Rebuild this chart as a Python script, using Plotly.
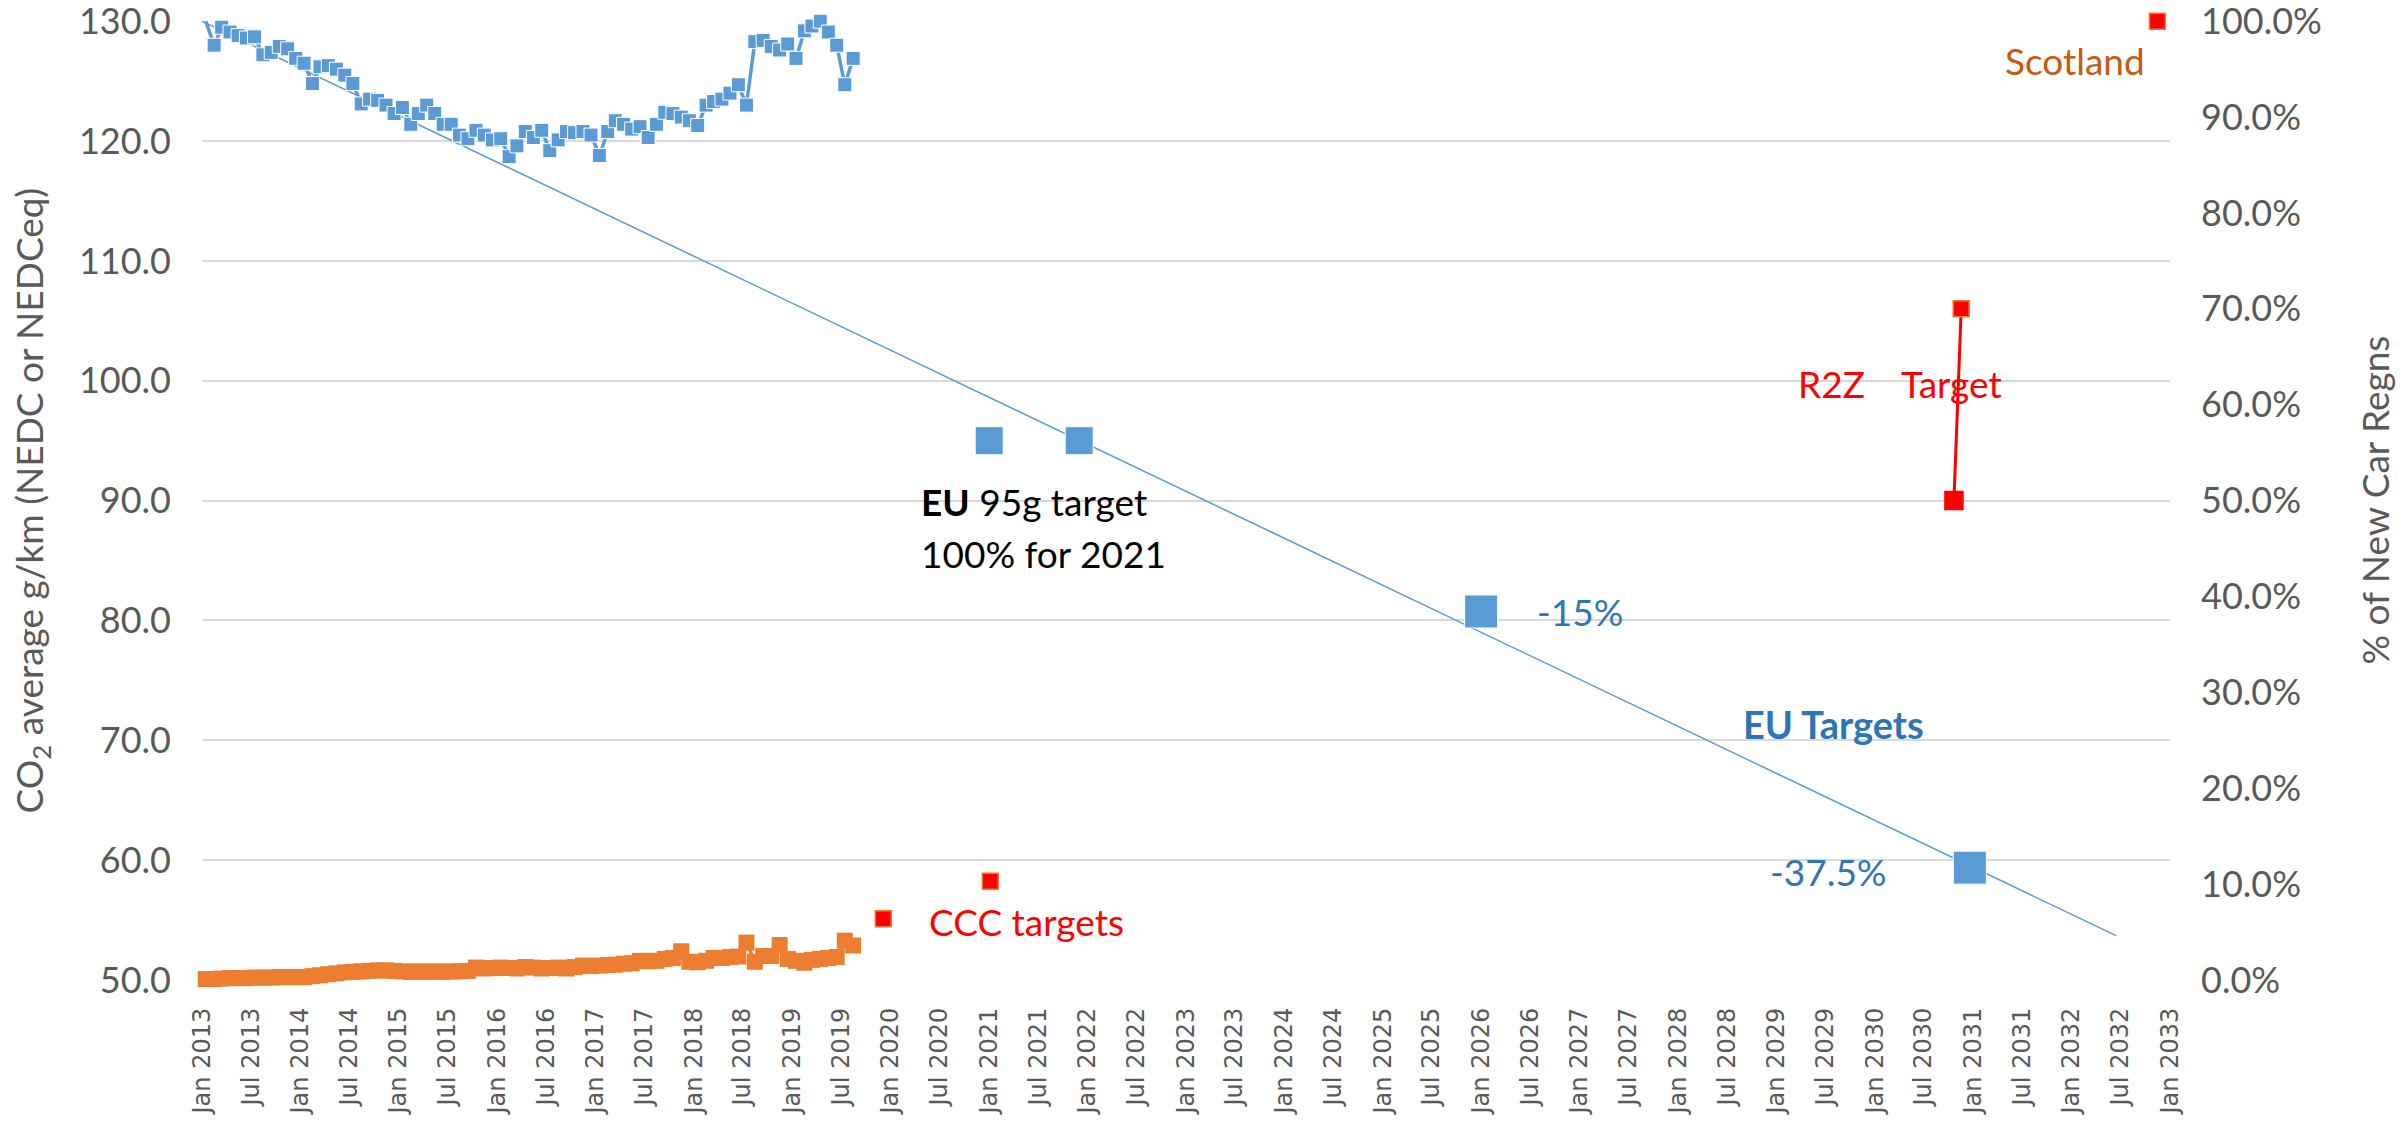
import pandas as pd
import plotly.graph_objects as go

# monthly figures, Jan 2013 .. Aug 2019 (plotted mid-month)
months = pd.date_range("2013-01-01", periods=80, freq="MS") + pd.Timedelta(days=14)

# new car CO2 average, g/km (left axis)
co2_avg = [
    130.0,
    128.0, 129.5, 129.1, 128.8, 128.6, 128.7, 127.2, 127.4, 127.9, 127.7,
    126.9, 126.5, 124.8, 126.2, 126.3, 126.0, 125.5, 124.8, 123.1, 123.5,
    123.4, 123.0, 122.3, 122.8, 121.4, 122.3, 123.0, 122.3, 121.4, 121.4,
    120.5, 120.2, 120.9, 120.5, 120.1, 120.2, 118.7, 119.6, 120.8, 120.3,
    120.9, 119.2, 120.1, 120.8, 120.7, 120.8, 120.5, 118.8, 120.8, 121.7,
    121.4, 121.0, 121.2, 120.3, 121.4, 122.4, 122.3, 122.0, 121.7, 121.3,
    123.0, 123.3, 123.5, 124.0, 124.7, 123.0, 128.3, 128.4, 127.9, 127.6,
    128.1, 126.9, 129.2, 129.6, 130.0, 129.1, 128.0, 124.7, 126.9,
]

# plug-in share of new car registrations, % (right axis)
plugin_share = [
    0.1, 0.1, 0.15, 0.2, 0.2, 0.2, 0.25, 0.25, 0.25, 0.3,
    0.3, 0.3, 0.3, 0.4, 0.5, 0.6, 0.7, 0.8, 0.85, 0.9,
    0.95, 1.0, 1.0, 0.95, 0.9, 0.85, 0.9, 0.85, 0.9, 0.85,
    0.9, 0.9, 0.95, 1.3, 1.2, 1.25, 1.3, 1.25, 1.2, 1.35,
    1.3, 1.2, 1.25, 1.3, 1.2, 1.35, 1.5, 1.45, 1.5, 1.55,
    1.6, 1.7, 1.75, 2.0, 1.95, 2.0, 2.2, 2.3, 3.0, 1.9,
    1.85, 2.0, 2.3, 2.3, 2.4, 2.45, 3.9, 1.9, 2.5, 2.5,
    3.65, 2.2, 2.0, 1.8, 2.1, 2.2, 2.3, 2.4, 4.1, 3.6,
]

# EU trajectory line and target points (left axis)
eu_line_dates = ["2013-01-01", "2032-06-15"]
eu_line_vals = [130.0, 53.7]
eu_target_dates = ["2021-01-01", "2021-12-01", "2026-01-01", "2030-12-20"]
eu_target_vals = [95.0, 95.0, 80.75, 59.375]

# share targets (right axis)
ccc_dates = ["2019-12-05", "2021-01-05"]
ccc_share = [6.4, 10.3]
r2z_dates = ["2030-10-22", "2030-11-18"]
r2z_share = [50.0, 70.0]
scotland_dates = ["2032-11-15"]
scotland_share = [100.0]

BLUE = "#5B9BD5"
ORANGE = "#ED7D31"
RED = "#FF0000"
TXT_BLUE = "#2E75B6"
GREY = "#595959"
FONT = "Lato, sans-serif"

fig = go.Figure()

fig.add_trace(go.Scatter(x=eu_line_dates, y=eu_line_vals, mode="lines",
                         line=dict(color=BLUE, width=1.5), yaxis="y"))

fig.add_trace(go.Scatter(x=months, y=co2_avg, mode="lines+markers",
                         line=dict(color=BLUE, width=3.5),
                         marker=dict(symbol="square", color=BLUE, opacity=1,
                                     size=[0] + [14] * (len(co2_avg) - 1)),
                         cliponaxis=False, yaxis="y"))

fig.add_trace(go.Scatter(x=eu_target_dates, y=eu_target_vals, mode="markers",
                         marker=dict(symbol="square", color=BLUE, opacity=1,
                                     size=[28, 28, 33, 33]),
                         yaxis="y"))

fig.add_trace(go.Scatter(x=months, y=plugin_share, mode="lines+markers",
                         line=dict(color=ORANGE, width=3.5),
                         marker=dict(symbol="square", color=ORANGE, size=16),
                         cliponaxis=False, yaxis="y2"))

fig.add_trace(go.Scatter(x=ccc_dates, y=ccc_share, mode="markers",
                         marker=dict(symbol="square", color=RED, size=16,
                                     line=dict(color=ORANGE, width=1.5)),
                         yaxis="y2"))

fig.add_trace(go.Scatter(x=r2z_dates, y=r2z_share, mode="lines+markers",
                         line=dict(color=RED, width=3),
                         marker=dict(symbol="square", color=RED, opacity=1, size=[18, 16],
                                     line=dict(color=[RED, ORANGE], width=1.5)),
                         yaxis="y2"))

fig.add_trace(go.Scatter(x=scotland_dates, y=scotland_share, mode="markers",
                         marker=dict(symbol="square", color=RED, size=16,
                                     line=dict(color=ORANGE, width=1.5)),
                         cliponaxis=False, yaxis="y2"))


def note(text, x, y, color, size=37, xanchor="center"):
    fig.add_annotation(text=text, x=x, y=y, xref="paper", yref="paper",
                       xanchor=xanchor, yanchor="middle", showarrow=False,
                       font=dict(family=FONT, size=size, color=color))


note("<b>EU</b> 95g target", 0.3643, 0.4987, "#000000", xanchor="left")
note("100% for 2021", 0.3643, 0.4444, "#000000", xanchor="left")
note("-15%", 0.7002, 0.3839, TXT_BLUE)
note("<b>EU Targets</b>", 0.8290, 0.2671, TXT_BLUE, size=38)
note("-37.5%", 0.8267, 0.1127, TXT_BLUE)
note("CCC targets", 0.4187, 0.061, RED)
note("R2Z", 0.8278, 0.6215, RED)
note("Target", 0.8890, 0.6215, RED)
note("Scotland", 0.9517, 0.9588, "#C55A11")

# axis titles
fig.add_annotation(text="CO<sub>2</sub> average g/km (NEDC or NEDCeq)", textangle=-90,
                   x=-0.0864, y=0.5, xref="paper", yref="paper",
                   xanchor="center", yanchor="middle", showarrow=False,
                   font=dict(family=FONT, size=37, color=GREY))
fig.add_annotation(text="% of New Car Regns", textangle=-90,
                   x=1.1037, y=0.5, xref="paper", yref="paper",
                   xanchor="center", yanchor="middle", showarrow=False,
                   font=dict(family=FONT, size=37, color=GREY))

fig.update_layout(
    width=2408, height=1124,
    margin=dict(l=202, r=238, t=21, b=144),
    paper_bgcolor="white", plot_bgcolor="white",
    showlegend=False,
    font=dict(family=FONT, color=GREY),
    xaxis=dict(type="date", range=["2013-01-01", "2033-01-01"],
               tick0="2013-01-01", dtick="M6", tickformat="%b %Y",
               tickangle=-90, showgrid=False, zeroline=False, showline=False,
               ticks="", ticklabelstandoff=22, automargin=False,
               ticklabeloverflow="allow",
               tickfont=dict(family="DejaVu Sans", size=24, color=GREY)),
    yaxis=dict(range=[50, 130.02], tick0=50, dtick=10, tickformat=".1f",
               gridcolor="#D9D9D9", gridwidth=2, zeroline=False, showline=False,
               ticks="", ticklabelstandoff=30, automargin=False,
               ticklabeloverflow="allow",
               tickfont=dict(family=FONT, size=36, color=GREY)),
    yaxis2=dict(range=[0, 100.025], tick0=0, dtick=10, tickformat=".1f", ticksuffix="%",
                overlaying="y", side="right", showgrid=False, zeroline=False,
                showline=False, ticks="", ticklabelstandoff=30, automargin=False,
                ticklabeloverflow="allow",
                tickfont=dict(family=FONT, size=36, color=GREY)),
)

fig.write_html("out.html", config={"displayModeBar": False},
               post_script="document.body.style.margin='0';")
